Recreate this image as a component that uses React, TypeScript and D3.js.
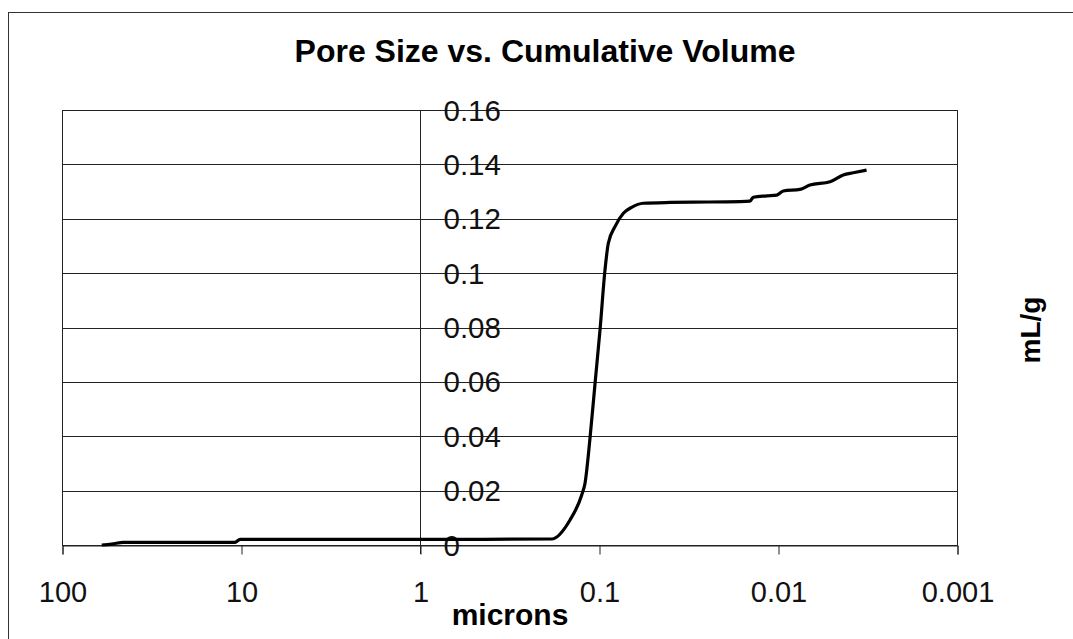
import * as d3 from "d3";
import { useEffect, useRef } from "react";

// pore diameter (microns) and cumulative intrusion volume (mL/g)
const microns = [60.0, 52.8, 45.4, 30.0, 20.0, 10.8, 10.1, 5.0, 1.0, 0.5, 0.1837,
    0.1452, 0.1249, 0.1197, 0.1123, 0.1052, 0.0987, 0.0926, 0.0887, 0.0814, 0.0731,
    0.0657, 0.0566, 0.04, 0.03, 0.0163, 0.01434, 0.01374, 0.01156, 0.01017, 0.00934,
    0.00754, 0.00663, 0.00512, 0.00432, 0.0038, 0.0032];
const volume = [0.0, 0.0003, 0.001, 0.001, 0.001, 0.001, 0.0021, 0.0021, 0.0021, 0.0021, 0.0022,
    0.0092, 0.0184, 0.0227, 0.0392, 0.0595, 0.0791, 0.1011, 0.111, 0.1171, 0.122,
    0.1242, 0.1257, 0.126, 0.1261, 0.1263, 0.1265, 0.1279, 0.1284, 0.1287, 0.1302,
    0.1308, 0.1324, 0.1336, 0.1361, 0.1369, 0.1379];

const xTicks = [100, 10, 1, 0.1, 0.01, 0.001];
const xTickLabels = ["100", "10", "1", "0.1", "0.01", "0.001"];
const yTicks = [0, 0.02, 0.04, 0.06, 0.08, 0.1, 0.12, 0.14, 0.16];
const yTickLabels = ["0", "0.02", "0.04", "0.06", "0.08", "0.1", "0.12", "0.14", "0.16"];

export default function App() {
    const svgRef = useRef<SVGSVGElement | null>(null);
    const width = 1073;
    const height = 639;
    const font = "'Liberation Sans', Arial, Helvetica, sans-serif";

    useEffect(() => {
        const svg = d3.select(svgRef.current);
        svg.selectAll("*").remove();

        const left = 62, right = 957, top = 110, bottom = 545;

        const x = d3.scaleLog().domain([100, 0.001]).range([left, right]);
        const y = d3.scaleLinear().domain([0, 0.16]).range([bottom, top]);

        svg.append("rect")
            .attr("width", width).attr("height", height).attr("fill", "white");

        // outer chart frame (runs past the right / bottom edge)
        svg.append("rect")
            .attr("x", 8.5).attr("y", 12.5)
            .attr("width", 1200).attr("height", 800)
            .attr("fill", "none").attr("stroke", "#333").attr("stroke-width", 1);

        // gridlines
        svg.append("g")
            .selectAll("line")
            .data(yTicks)
            .join("line")
            .attr("x1", left).attr("x2", right)
            .attr("y1", d => Math.round(y(d)) + 0.5)
            .attr("y2", d => Math.round(y(d)) + 0.5)
            .attr("stroke", "#222").attr("stroke-width", 1);

        // plot frame
        svg.append("rect")
            .attr("x", left + 0.5).attr("y", top + 0.5)
            .attr("width", right - left).attr("height", bottom - top)
            .attr("fill", "none").attr("stroke", "#222").attr("stroke-width", 1);

        // x axis ticks + labels
        const xAxis = d3.axisBottom(x)
            .tickValues(xTicks)
            .tickSize(9)
            .tickFormat((_d, i) => xTickLabels[i]);
        const gx = svg.append("g")
            .attr("transform", `translate(0.5, ${bottom + 0.5})`)
            .call(xAxis);
        gx.select(".domain").attr("stroke", "#222");
        gx.selectAll(".tick line").attr("stroke", "#222");
        gx.selectAll(".tick text")
            .attr("y", 0)
            .attr("dy", 0)
            .attr("transform", "translate(0, 56)")
            .attr("fill", "#111")
            .style("font-family", font)
            .style("font-size", "29px");

        // y axis at x = 1
        const x0 = Math.round(x(1)) + 0.5;
        svg.append("line")
            .attr("x1", x0).attr("x2", x0)
            .attr("y1", top).attr("y2", bottom + 9)
            .attr("stroke", "#222").attr("stroke-width", 1);

        svg.append("g")
            .selectAll("text")
            .data(yTicks)
            .join("text")
            .attr("x", x0 + 23)
            .attr("y", d => y(d) + 10.5)
            .attr("fill", "#111")
            .style("font-family", font)
            .style("font-size", "29.5px")
            .text((_d, i) => yTickLabels[i]);

        // curve
        const pts: [number, number][] = microns.map((m, i) => [m, volume[i]]);
        const line = d3.line<[number, number]>()
            .x(d => x(d[0]))
            .y(d => y(d[1]))
            .curve(d3.curveMonotoneX);
        svg.append("path")
            .attr("d", line(pts.slice().reverse()) ?? "")
            .attr("fill", "none")
            .attr("stroke", "#000")
            .attr("stroke-width", 3.2)
            .attr("stroke-linejoin", "round");

        // title and axis titles
        svg.append("text")
            .attr("x", 545).attr("y", 62)
            .attr("text-anchor", "middle")
            .style("font-family", font).style("font-size", "32px").style("font-weight", "bold")
            .text("Pore Size vs. Cumulative Volume");

        svg.append("text")
            .attr("x", 510).attr("y", 625)
            .attr("text-anchor", "middle")
            .style("font-family", font).style("font-size", "30px").style("font-weight", "bold")
            .text("microns");

        svg.append("text")
            .attr("transform", "translate(1040, 330) rotate(-90)")
            .attr("text-anchor", "middle")
            .style("font-family", font).style("font-size", "28px").style("font-weight", "bold")
            .text("mL/g");
    }, []);

    return (
        <svg ref={svgRef} width={width} height={height}
            style={{ position: "absolute", left: 0, top: 0, display: "block" }} />
    );
}
